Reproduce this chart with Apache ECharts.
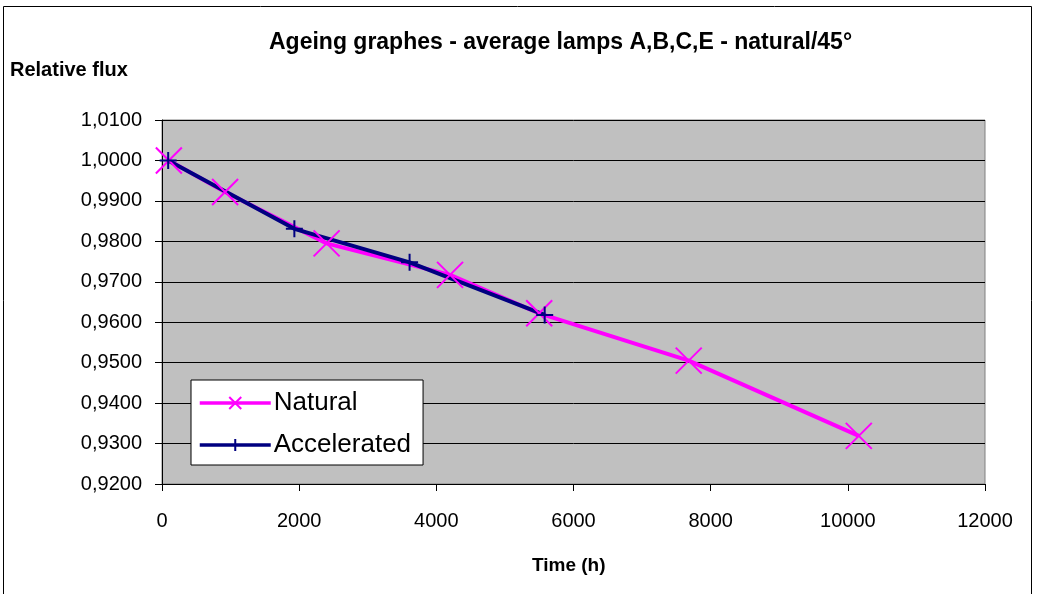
<!DOCTYPE html>
<html>
<head>
<meta charset="utf-8">
<script src="https://cdn.jsdelivr.net/npm/echarts@6/dist/echarts.min.js"></script>
<style>
  html, body { margin: 0; padding: 0; background: #fff; }
  #chart { width: 1038px; height: 594px; }
</style>
</head>
<body>
<div id="chart"></div>
<script>
// Ageing curves
const naturalTime = [100, 920, 2400, 4200, 5500, 7680, 10160];
const naturalFlux = [1.0000, 0.9922, 0.9795, 0.9717, 0.9622, 0.9505, 0.9319];
const accelTime = [90, 1930, 3610, 5580];
const accelFlux = [1.0000, 0.9831, 0.9748, 0.9618];

const fontFamily = 'Arial, "Liberation Sans", sans-serif';

function pairs(xs, ys) {
    return xs.map((x, i) => [x, ys[i]]);
}

const chart = echarts.init(document.getElementById('chart'));

const option = {
    animation: false,
    backgroundColor: '#fff',
    title: [
        {
            text: 'Ageing graphes - average lamps A,B,C,E - natural/45°',
            left: 264,
            top: 26,
            textStyle: { fontFamily, fontSize: 23, fontWeight: 'bold', color: '#000' }
        },
        {
            text: 'Relative flux',
            left: 5,
            top: 55,
            textStyle: { fontFamily, fontSize: 20, fontWeight: 'bold', color: '#000' }
        },
        {
            text: 'Time (h)',
            left: 527,
            top: 551,
            textStyle: { fontFamily, fontSize: 19, fontWeight: 'bold', color: '#000' }
        }
    ],
    graphic: [
        {
            type: 'rect',
            shape: { x: 3.5, y: 6.5, width: 1028, height: 600 },
            style: { fill: 'none', stroke: '#000', lineWidth: 1 },
            silent: true
        }
    ],
    legend: {
        orient: 'vertical',
        left: 191,
        top: 380,
        padding: [10, 12, 7, 7],
        itemGap: 16,
        itemWidth: 71,
        itemHeight: 15,
        backgroundColor: '#fff',
        borderColor: '#000',
        borderWidth: 1,
        lineStyle: { width: 3.5 },
        textStyle: { fontFamily, fontSize: 26, lineHeight: 26, color: '#000', padding: [0, 0, 0, -2] },
        data: ['Natural', 'Accelerated']
    },
    grid: {
        left: 162,
        top: 120,
        right: 53,
        bottom: 110,
        show: true,
        backgroundColor: '#c0c0c0',
        borderColor: '#808080',
        borderWidth: 1
    },
    xAxis: {
        type: 'value',
        min: 0,
        max: 12000,
        interval: 2000,
        axisLine: { show: true, onZero: false, lineStyle: { color: '#000', width: 1 } },
        axisTick: { show: true, length: 7, lineStyle: { color: '#000' } },
        axisLabel: { fontFamily, fontSize: 20, color: '#000', margin: 27, formatter: v => String(v) },
        splitLine: { show: false }
    },
    yAxis: {
        type: 'value',
        min: 0.92,
        max: 1.01,
        interval: 0.01,
        axisLine: { show: true, onZero: false, lineStyle: { color: '#000', width: 1 } },
        axisTick: { show: true, length: 7, lineStyle: { color: '#000' } },
        axisLabel: {
            fontFamily, fontSize: 20, color: '#000', margin: 20,
            formatter: v => v.toFixed(4).replace('.', ',')
        },
        splitLine: { show: true, lineStyle: { color: '#000', width: 1 } }
    },
    series: [
        {
            name: 'Natural',
            type: 'line',
            data: pairs(naturalTime, naturalFlux),
            symbol: 'path://M0,0L10,10M10,0L0,10',
            symbolSize: 26,
            showAllSymbol: true,
            lineStyle: { color: '#ff00ff', width: 4 },
            itemStyle: { color: 'none', borderColor: '#ff00ff', borderWidth: 2 }
        },
        {
            name: 'Accelerated',
            type: 'line',
            data: pairs(accelTime, accelFlux),
            symbol: 'path://M5,0L5,10M0,5L10,5',
            symbolSize: 17,
            showAllSymbol: true,
            lineStyle: { color: '#000080', width: 4 },
            itemStyle: { color: 'none', borderColor: '#000080', borderWidth: 2 }
        }
    ]
};

chart.setOption(option);
window.addEventListener('resize', () => chart.resize());
</script>
</body>
</html>
